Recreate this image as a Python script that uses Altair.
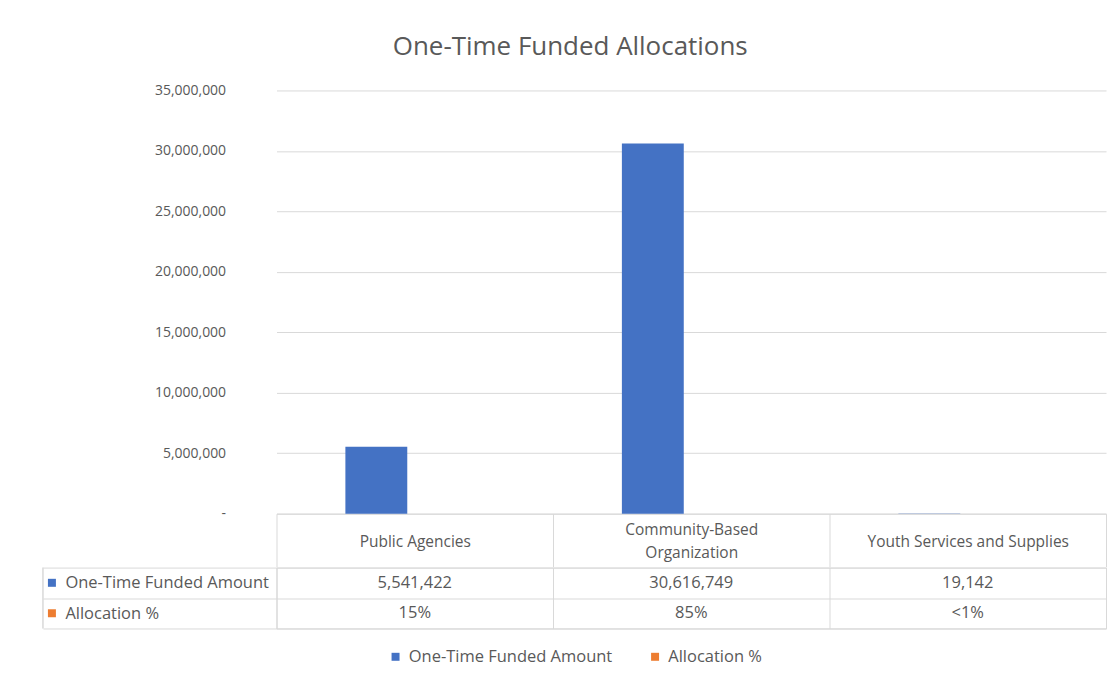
import altair as alt
import pandas as pd

categories = ["Public Agencies", "Community-Based Organization", "Youth Services and Supplies"]
series = ["One-Time Funded Amount", "Allocation %"]
amounts = [5541422, 30616749, 19142]
alloc_pct = [0.15, 0.85, 0.0005]
pct_labels = ["15%", "85%", "<1%"]
y_ticks = [0, 5000000, 10000000, 15000000, 20000000, 25000000, 30000000, 35000000]
colors = ["#4472C4", "#ED7D31"]

GRID = "#d9d9d9"
TXT = "#595959"
FONT = "Open Sans"

bar_rows = []
for c, a, p in zip(categories, amounts, alloc_pct):
    bar_rows.append({"category": c, "series": series[0], "value": a})
    bar_rows.append({"category": c, "series": series[1], "value": p})
df_bars = pd.DataFrame(bar_rows)

table_rows = []
for c, a, pl in zip(categories, amounts, pct_labels):
    table_rows.append({"category": c, "series": series[0], "text": f"{a:,}"})
    table_rows.append({"category": c, "series": series[1], "text": pl})
df_table = pd.DataFrame(table_rows)
df_series = pd.DataFrame({"series": series})

color_enc = alt.Color(
    "series:N",
    scale=alt.Scale(domain=series, range=colors),
    legend=alt.Legend(
        title=None, orient="none", legendX=111, legendY=559, direction="horizontal",
        symbolType="square", symbolSize=64, symbolStrokeWidth=0, labelFontSize=16.5,
        labelColor=TXT, columnPadding=34, labelFont=FONT, labelLimit=400, labelOffset=5,
    ),
)

x_top = alt.X(
    "category:N", sort=categories,
    scale=alt.Scale(paddingInner=0, paddingOuter=0),
    axis=alt.Axis(
        title=None, labelAngle=0, labelOverlap=False, labelBound=False,
        labelExpr="datum.label == 'Community-Based Organization' ? ['Community-Based', 'Organization'] : datum.label",
        tickBand="extent", tickSize=53, tickColor=GRID, domainColor=GRID,
        labelPadding=-25,
        labelBaseline={"condition": {"test": "datum.label == 'Community-Based Organization'",
                                     "value": "line-bottom"},
                       "value": "middle"},
        labelFontSize=15.5, labelColor=TXT, labelFont=FONT,
        labelLineHeight=23, labelLimit=270,
    ),
)

bars = alt.Chart(df_bars).mark_bar().encode(
    x=x_top,
    xOffset=alt.XOffset("series:N", sort=series,
                        scale=alt.Scale(paddingInner=0.195, paddingOuter=0.896)),
    y=alt.Y(
        "value:Q", scale=alt.Scale(domain=[0, 35000000], nice=False),
        axis=alt.Axis(
            title=None, values=y_ticks,
            labelExpr="datum.value == 0 ? '-' : format(datum.value, ',')",
            domain=False, ticks=False, gridColor=GRID, labelPadding=51,
            labelFontSize=14, labelColor=TXT, labelFont=FONT,
        ),
    ),
    color=color_enc,
).properties(width=831, height=424, view=alt.ViewBackground(stroke=None))

x_bot = alt.X(
    "category:N", sort=categories,
    scale=alt.Scale(paddingInner=0, paddingOuter=0),
    axis=alt.Axis(title=None, labels=False, ticks=False, domain=False, grid=True,
                  tickBand="extent", gridColor=GRID),
)
y_bot = alt.Y(
    "series:N", sort=series,
    scale=alt.Scale(domain=series, paddingInner=0, paddingOuter=0),
    axis=alt.Axis(title=None, grid=True, tickBand="extent", gridColor=GRID,
                  ticks=True, tickSize=234, tickColor=GRID, domain=False,
                  labelAlign="left", labelPadding=-22, labelFontSize=16.5,
                  labelColor=TXT, labelLimit=300, labelFont=FONT),
)

cells = alt.Chart(df_table).mark_text(fontSize=16.5, color=TXT, font=FONT).encode(
    x=x_bot, y=y_bot, text="text:N"
)
squares = alt.Chart(df_series).mark_point(shape="square", filled=True, size=64, opacity=1).encode(
    x=alt.value(-225), y=y_bot, color=color_enc
)
left_rule = alt.Chart(df_series).mark_rule(color=GRID).encode(
    x=alt.value(-234), y=alt.value(0), y2=alt.value(61)
)

table = alt.layer(cells, squares, left_rule).properties(
    width=831, height=61, view=alt.ViewBackground(stroke=GRID)
)

chart = alt.vconcat(bars, table, spacing=-9).properties(
    title=alt.TitleParams("One-Time Funded Allocations", fontSize=26, fontWeight="normal",
                          color=TXT, anchor="middle", offset=24, font=FONT, dx=-4),
    padding={"left": 34, "top": 25, "right": 4, "bottom": 4},
).configure(font=FONT).configure_view(stroke=None)

chart.save("out.html", embed_options={"renderer": "svg", "actions": False})
